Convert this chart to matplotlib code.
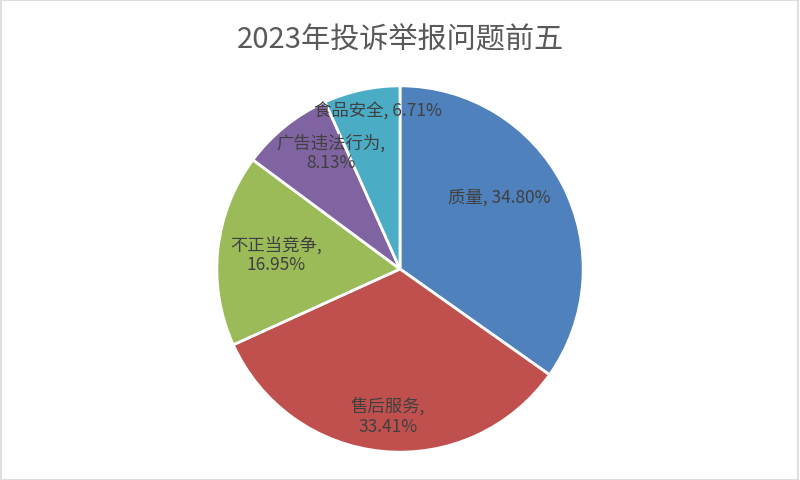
import matplotlib
matplotlib.use('Agg')
import matplotlib.pyplot as plt
from matplotlib.patches import Rectangle

plt.rcParams['font.family'] = ['Noto Sans CJK SC', 'DejaVu Sans']

categories = ['质量', '售后服务', '不正当竞争', '广告违法行为', '食品安全']
shares = [34.80, 33.41, 16.95, 8.13, 6.71]
colors = ['#4F81BD', '#C0504D', '#9BBB59', '#8064A2', '#4BACC6']
# label text layout (line break after the comma or not)
label_texts = ['质量, 34.80%', '售后服务,\n33.41%', '不正当竞争,\n16.95%', '广告违法行为,\n8.13%', '食品安全, 6.71%']
# label centre positions as (x, y) in pie-radius units
label_pos = [(0.54, 0.395), (-0.065, -0.80), (-0.676, 0.081), (-0.378, 0.638), (-0.119, 0.865)]

fig = plt.figure(figsize=(8, 4.81), dpi=100)
fig.patches.append(Rectangle((0.001, 0.001), 0.997, 0.996, transform=fig.transFigure,
                             fill=False, edgecolor='#D9D9D9', linewidth=1.2))

ax = fig.add_axes([215 / 800, 26 / 481, 370 / 800, 370 / 481])
ax.pie(shares, colors=colors, startangle=90, counterclock=False, radius=1,
       wedgeprops=dict(edgecolor='white', linewidth=2))
ax.set_xlim(-1.01, 1.01)
ax.set_ylim(-1.01, 1.01)
ax.axis('off')

for txt, (x, y) in zip(label_texts, label_pos):
    ax.text(x, y, txt, ha='center', va='center', fontsize=12.5, color='#404040', linespacing=1.15)

fig.text(0.5, 0.917, '2023年投诉举报问题前五', ha='center', va='center', fontsize=21, color='#595959')

fig.savefig('out.png', dpi=100)
